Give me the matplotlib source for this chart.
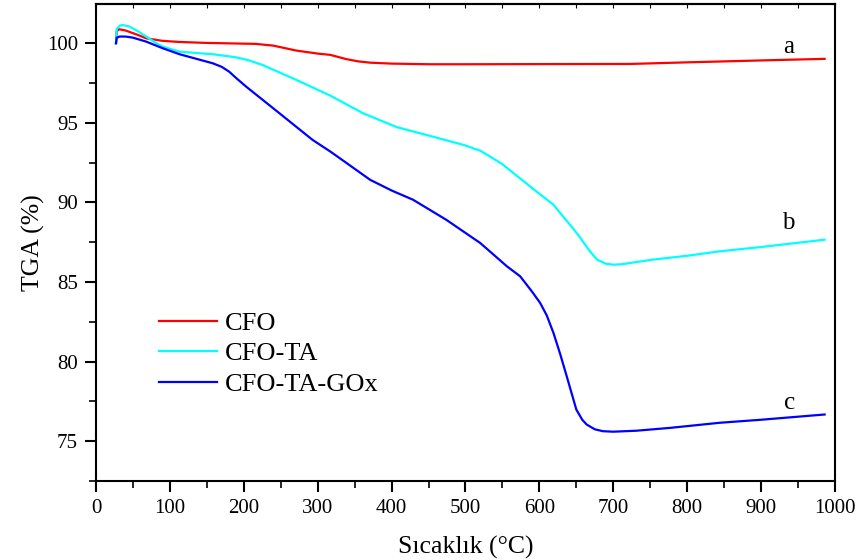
import matplotlib
matplotlib.use("Agg")
import matplotlib.pyplot as plt
from matplotlib.ticker import MultipleLocator

plt.rcParams['font.family'] = ['Liberation Serif', 'DejaVu Serif']

# Temperature (°C) and mass retained (%) for each sample
cfo_t = [27, 28, 31, 40, 55, 68, 90, 113, 150, 216, 240, 271, 300, 317, 338, 355, 371, 400, 452, 500, 600, 723, 800, 900, 986]
cfo_w = [100.0, 100.75, 100.88, 100.8, 100.55, 100.31, 100.15, 100.08, 100.02, 99.96, 99.85, 99.54, 99.35, 99.27, 99.01, 98.86, 98.78, 98.72, 98.68, 98.68, 98.69, 98.7, 98.8, 98.92, 99.02]

ta_t = [27, 28, 32, 36, 45, 55, 68, 80, 90, 113, 158, 189, 205, 225, 271, 317, 361, 407, 452, 497, 520, 533, 550, 565, 596, 619, 632, 645, 655, 668, 678, 690, 700, 712, 723, 754, 800, 844, 900, 986]
ta_w = [100.0, 100.9, 101.1, 101.15, 101.05, 100.8, 100.42, 100.05, 99.79, 99.47, 99.31, 99.12, 98.95, 98.64, 97.7, 96.71, 95.61, 94.73, 94.18, 93.62, 93.25, 92.89, 92.4, 91.84, 90.69, 89.86, 89.12, 88.4, 87.8, 86.95, 86.41, 86.15, 86.09, 86.12, 86.2, 86.41, 86.65, 86.93, 87.2, 87.66]

gox_t = [27, 28, 32, 40, 50, 68, 90, 113, 158, 170, 180, 190, 203, 248, 293, 317, 338, 371, 400, 429, 474, 520, 556, 574, 590, 601, 610, 619, 628, 637, 650, 658, 664, 675, 686, 700, 731, 777, 844, 900, 986]
gox_w = [100.0, 100.35, 100.42, 100.42, 100.35, 100.1, 99.69, 99.31, 98.74, 98.52, 98.22, 97.8, 97.28, 95.61, 93.93, 93.2, 92.51, 91.42, 90.75, 90.17, 88.91, 87.45, 85.99, 85.36, 84.4, 83.69, 82.9, 81.81, 80.5, 79.08, 76.99, 76.35, 76.05, 75.75, 75.63, 75.6, 75.66, 75.84, 76.16, 76.35, 76.68]

series = [("CFO", cfo_t, cfo_w, "#ff0000"),
          ("CFO-TA", ta_t, ta_w, "#00ffff"),
          ("CFO-TA-GOx", gox_t, gox_w, "#0000ff")]

curve_tags = [("a", 937, 99.77), ("b", 937, 88.7), ("c", 938, 77.4)]

fig = plt.figure(figsize=(8.59, 5.6), dpi=100)
ax = fig.add_axes([0.1118, 0.141, 0.8602, 0.852])

for name, t, w, c in series:
    ax.plot(t, w, color=c, lw=1.6, label=name)

for tag, tx, ty in curve_tags:
    ax.text(tx, ty, tag, fontsize=18, ha="center", va="center")

ax.set_xlim(0, 1000)
ax.set_ylim(72.5, 102.47)
ax.xaxis.set_major_locator(MultipleLocator(100))
ax.xaxis.set_minor_locator(MultipleLocator(50))
ax.yaxis.set_major_locator(MultipleLocator(5))
ax.yaxis.set_minor_locator(MultipleLocator(2.5))

for s in ax.spines.values():
    s.set_linewidth(1.5)

ax.tick_params(axis="both", which="major", direction="out", length=8, width=1.5,
               labelsize=15, pad=5, top=False, right=False)
ax.tick_params(axis="both", which="minor", direction="out", length=5, width=1.2,
               top=False, right=False)

# short inward ticks along the top edge
ax_top = ax.secondary_xaxis("top")
ax_top.xaxis.set_major_locator(MultipleLocator(100))
ax_top.xaxis.set_minor_locator(MultipleLocator(50))
ax_top.tick_params(which="major", direction="in", length=3, width=0.8, labeltop=False)
ax_top.tick_params(which="minor", direction="in", length=3, width=0.8)
ax_top.spines["top"].set_linewidth(1.5)

ax.set_xlabel("Sıcaklık (°C)", fontsize=18.5, labelpad=13)
ax.set_ylabel("TGA (%)", fontsize=18.5, labelpad=1)

ax.legend(loc="upper left", bbox_to_anchor=(0.085, 0.355), frameon=False,
          fontsize=19, handlelength=2.2, handletextpad=0.3, labelspacing=0.26,
          borderpad=0, borderaxespad=0)

fig.savefig("out.png", dpi=100)
